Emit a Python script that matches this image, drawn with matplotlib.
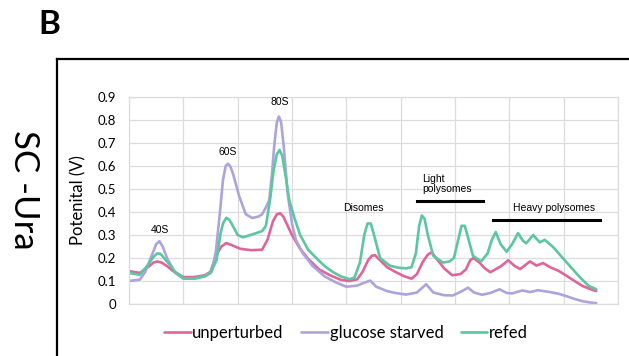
#!/usr/bin/env python3
"""Sucrose gradient polysome profiles, SC -Ura (panel B)."""

import matplotlib

matplotlib.use("Agg")
import matplotlib.pyplot as plt
from matplotlib.lines import Line2D

# fraction position along the gradient (grid units) and detector potential (V)
unperturbed_x = [0, 0.2, 0.35, 0.45, 0.52, 0.6, 0.7, 0.8, 1.0, 1.2, 1.4, 1.5, 1.6, 1.7,
                 1.79, 1.9, 2.05, 2.25, 2.45, 2.55, 2.65, 2.72, 2.78, 2.84, 2.92, 3.0,
                 3.15, 3.3, 3.5, 3.7, 3.9, 4.05, 4.2, 4.3, 4.4, 4.47, 4.53, 4.6, 4.75, 4.9,
                 5.05, 5.2, 5.3, 5.4, 5.5, 5.57, 5.65, 5.8, 5.95, 6.1, 6.2, 6.28, 6.34, 6.45,
                 6.55, 6.65, 6.85, 6.98, 7.1, 7.2, 7.38, 7.5, 7.62, 7.75, 7.9, 8.05, 8.2,
                 8.35, 8.5, 8.6]
unperturbed_y = [0.143, 0.135, 0.16, 0.18, 0.185, 0.18, 0.165, 0.145, 0.117, 0.117, 0.125,
                 0.14, 0.21, 0.25, 0.265, 0.255, 0.24, 0.234, 0.236, 0.28, 0.36, 0.39,
                 0.395, 0.38, 0.34, 0.3, 0.24, 0.195, 0.15, 0.125, 0.105, 0.1, 0.107, 0.14,
                 0.19, 0.21, 0.212, 0.195, 0.16, 0.14, 0.122, 0.11, 0.13, 0.18, 0.215,
                 0.225, 0.2, 0.155, 0.125, 0.13, 0.15, 0.19, 0.2, 0.18, 0.155, 0.138,
                 0.165, 0.19, 0.165, 0.152, 0.185, 0.167, 0.178, 0.16, 0.145, 0.123, 0.1,
                 0.078, 0.064, 0.056]

starved_x = [0, 0.2, 0.3, 0.4, 0.5, 0.56, 0.62, 0.7, 0.85, 1.0, 1.2, 1.4, 1.52, 1.6, 1.67,
             1.73, 1.78, 1.82, 1.86, 1.91, 2.03, 2.15, 2.27, 2.38, 2.45, 2.52, 2.58, 2.63,
             2.67, 2.72, 2.76, 2.8, 2.85, 2.92, 3.0, 3.07, 3.2, 3.38, 3.6, 3.8, 4.0, 4.2,
             4.3, 4.44, 4.55, 4.75, 4.9, 5.1, 5.3, 5.47, 5.6, 5.8, 5.96, 6.12, 6.24, 6.35,
             6.5, 6.65, 6.82, 6.95, 7.05, 7.24, 7.38, 7.53, 7.74, 7.9, 8.05, 8.2, 8.35,
             8.5, 8.6]
starved_y = [0.1, 0.106, 0.14, 0.2, 0.26, 0.273, 0.25, 0.2, 0.135, 0.11, 0.11, 0.12, 0.14,
             0.23, 0.39, 0.54, 0.6, 0.61, 0.6, 0.57, 0.467, 0.39, 0.374, 0.38, 0.39, 0.42,
             0.45, 0.56, 0.68, 0.79, 0.815, 0.79, 0.68, 0.48, 0.35, 0.28, 0.22, 0.165,
             0.12, 0.095, 0.075, 0.08, 0.09, 0.102, 0.075, 0.056, 0.048, 0.041, 0.05,
             0.086, 0.05, 0.038, 0.037, 0.055, 0.071, 0.05, 0.04, 0.048, 0.064, 0.048,
             0.046, 0.059, 0.052, 0.06, 0.052, 0.045, 0.034, 0.022, 0.012, 0.006, 0.004]

refed_x = [0, 0.2, 0.35, 0.45, 0.52, 0.58, 0.7, 0.85, 1.0, 1.2, 1.4, 1.5, 1.61, 1.68, 1.73,
           1.79, 1.85, 1.91, 2.0, 2.1, 2.3, 2.45, 2.52, 2.6, 2.66, 2.72, 2.77, 2.82, 2.88,
           2.95, 3.05, 3.15, 3.3, 3.46, 3.6, 3.76, 3.9, 4.06, 4.15, 4.25, 4.33, 4.39, 4.45,
           4.51, 4.62, 4.8, 4.95, 5.1, 5.2, 5.28, 5.34, 5.39, 5.44, 5.5, 5.6, 5.78, 5.9,
           5.98, 6.07, 6.12, 6.18, 6.25, 6.33, 6.48, 6.6, 6.68, 6.75, 6.84, 6.95, 7.05,
           7.16, 7.25, 7.31, 7.44, 7.56, 7.65, 7.8, 8.05, 8.3, 8.46, 8.6]
refed_y = [0.135, 0.127, 0.17, 0.205, 0.22, 0.218, 0.185, 0.14, 0.112, 0.11, 0.122, 0.135,
           0.19, 0.3, 0.35, 0.375, 0.365, 0.34, 0.3, 0.29, 0.305, 0.317, 0.34, 0.46, 0.58,
           0.65, 0.67, 0.645, 0.56, 0.45, 0.37, 0.3, 0.235, 0.197, 0.165, 0.138, 0.12,
           0.108, 0.115, 0.18, 0.3, 0.35, 0.35, 0.3, 0.2, 0.167, 0.158, 0.155, 0.16, 0.22,
           0.34, 0.385, 0.37, 0.3, 0.21, 0.18, 0.185, 0.2, 0.29, 0.34, 0.34, 0.28, 0.21,
           0.185, 0.22, 0.28, 0.313, 0.26, 0.227, 0.26, 0.308, 0.275, 0.264, 0.3, 0.268,
           0.279, 0.249, 0.182, 0.116, 0.079, 0.064]

series_names = ["unperturbed", "glucose starved", "refed"]
series_colors = ["#e0649c", "#aba5dc", "#5cc6a0"]

# peak labels: (text, x, y)
peak_labels = [("40S", 0.57, 0.32), ("60S", 1.82, 0.66), ("80S", 2.78, 0.88),
               ("Disomes", 4.31, 0.416)]
light_bar = (5.3, 6.52, 0.449)
heavy_bar = (6.7, 8.67, 0.365)

LABEL_FONT = ["Lato", "DejaVu Sans"]
NOTE_FONT = ["Liberation Sans", "DejaVu Sans"]

fig = plt.figure(figsize=(6.29, 3.56), dpi=100)
ax = fig.add_axes([129 / 629, 1 - 304 / 356, 489 / 629, 207 / 356])

curves = [(unperturbed_x, unperturbed_y), (starved_x, starved_y), (refed_x, refed_y)]
for (xs, ys), name, color in zip(curves, series_names, series_colors):
    ax.plot(xs, ys, color=color, lw=1.9, label=name, solid_capstyle="round",
            solid_joinstyle="round")

ax.set_xlim(0, 9)
ax.set_ylim(0, 0.9)
ax.set_xticks(range(10))
ax.set_yticks([i / 10 for i in range(10)])
ax.set_yticklabels(["0"] + [f"{i / 10:.1f}" for i in range(1, 10)])
ax.tick_params(axis="x", length=0, labelbottom=False)
ax.tick_params(axis="y", length=0, pad=9, labelsize=9.5)
for lab in ax.get_yticklabels():
    lab.set_family(LABEL_FONT)
ax.grid(True, color="#dcdcdc", lw=0.9)
ax.set_axisbelow(True)
for side in ax.spines.values():
    side.set_color("#dcdcdc")
    side.set_linewidth(0.9)

ax.set_ylabel("Potenital (V)", fontsize=12, family=LABEL_FONT)
ax.yaxis.set_label_coords(-0.088, 0.5)

for text, x, y in peak_labels:
    ax.text(x, y, text, ha="center", va="center", fontsize=7.5, family=NOTE_FONT)

ax.text(5.4, 0.565, "Light\npolysomes", ha="left", va="top", fontsize=7.5,
        family=NOTE_FONT, linespacing=1.05)
ax.plot(light_bar[:2], [light_bar[2]] * 2, color="black", lw=2.2)
ax.text(7.82, 0.416, "Heavy polysomes", ha="center", va="center", fontsize=7.5,
        family=NOTE_FONT)
ax.plot(heavy_bar[:2], [heavy_bar[2]] * 2, color="black", lw=2.2)

fig.legend(loc="center", bbox_to_anchor=(346 / 629, 1 - 333 / 356), ncol=3,
           frameon=False, prop={"family": LABEL_FONT, "size": 12},
           handlelength=1.6, handletextpad=0.1, columnspacing=1.05)

# panel frame, open to the right and bottom
fig.add_artist(Line2D([57 / 629, 1], [1 - 59 / 356] * 2, color="black", lw=1.6))
fig.add_artist(Line2D([57 / 629] * 2, [0, 1 - 59 / 356], color="black", lw=1.6))

fig.text(38 / 629, 1 - 24 / 356, "B", fontsize=24, fontweight="bold",
         family=LABEL_FONT, ha="left", va="center")
fig.text(24 / 629, 1 - 190 / 356, "SC -Ura", fontsize=25, rotation=-90,
         family=LABEL_FONT, ha="center", va="center")

fig.savefig("out.png", dpi=100)
